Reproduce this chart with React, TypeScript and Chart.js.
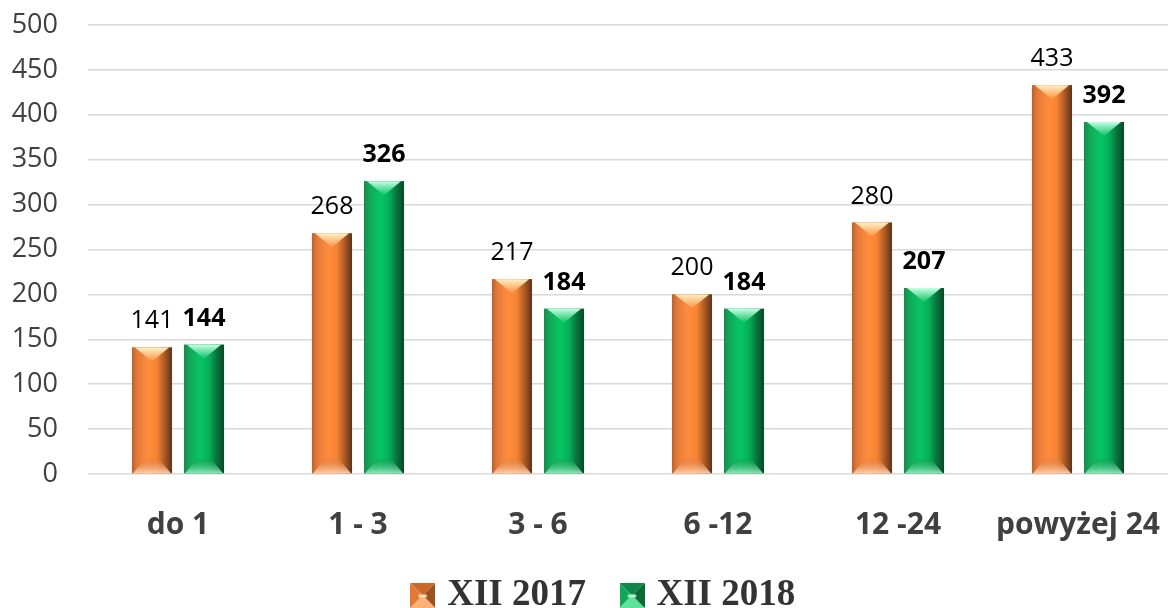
import React, { useEffect, useRef } from "react";
import { Chart, registerables } from "chart.js";

Chart.register(...registerables);

const categories = ["do 1", "1 - 3", "3 - 6", "6 -12", "12 -24", "powyżej 24"];
const values2017 = [141, 268, 217, 200, 280, 433];
const values2018 = [144, 326, 184, 184, 207, 392];
const seriesNames = ["XII 2017", "XII 2018"];
const yMin = 0;
const yMax = 500;
const yStep = 50;

type Pal = {
  base: string;
  body: [number, string][];
  topFacet: [string, string];
  botFacet: [string, string];
  icon: { top: string; left: string; right: string; bottom: string; center: string };
};

const palettes: Pal[] = [
  {
    base: "#f58535",
    body: [
      [0, "#b9622c"],
      [0.12, "#e2793a"],
      [0.4, "#ff8c3c"],
      [0.62, "#f58434"],
      [0.82, "#ab5824"],
      [1, "#5a331a"],
    ],
    topFacet: ["#fff2c6", "rgba(255,150,70,0.9)"],
    botFacet: ["rgba(255,210,175,0.95)", "rgba(220,120,60,0.35)"],
    icon: { top: "#c8692c", left: "#e27a36", right: "#9c521f", bottom: "#ffb277", center: "#ffe2b0" },
  },
  {
    base: "#0fb35c",
    body: [
      [0, "#178a4a"],
      [0.12, "#13a658"],
      [0.4, "#06c564"],
      [0.62, "#05b059"],
      [0.82, "#09723b"],
      [1, "#0a4728"],
    ],
    topFacet: ["#c6ffe4", "rgba(20,195,105,0.9)"],
    botFacet: ["rgba(150,235,190,0.95)", "rgba(20,150,80,0.35)"],
    icon: { top: "#10874a", left: "#12a85a", right: "#0a6a36", bottom: "#5ee39c", center: "#b8ffd9" },
  },
];

function makeIcon(p: Pal["icon"]): HTMLCanvasElement {
  const s = 25;
  const c = document.createElement("canvas");
  c.width = s;
  c.height = s;
  const g = c.getContext("2d")!;
  const m = s / 2;
  const tri = (pts: number[][], col: string) => {
    g.beginPath();
    g.moveTo(pts[0][0], pts[0][1]);
    for (let i = 1; i < pts.length; i++) g.lineTo(pts[i][0], pts[i][1]);
    g.closePath();
    g.fillStyle = col;
    g.fill();
  };
  tri([[0, 0], [s, 0], [m, m]], p.top);
  tri([[0, 0], [0, s], [m, m]], p.left);
  tri([[s, 0], [s, s], [m, m]], p.right);
  tri([[0, s], [s, s], [m, m]], p.bottom);
  g.fillStyle = p.center;
  g.fillRect(m - 4, m - 1, 8, 3);
  return c;
}

const barsPlugin = {
  id: "bevelBars",
  afterLayout(chart: any) {
    const lg = chart.legend;
    if (lg) {
      lg.left += 22;
      lg.right += 22;
      lg.top += 16;
      lg.bottom += 16;
    }
    const xs = chart.scales.x;
    if (xs) xs.bottom = chart.height;
  },
  afterDatasetsDraw(chart: any) {
    const ctx: CanvasRenderingContext2D = chart.ctx;
    ctx.save();
    chart.data.datasets.forEach((ds: any, di: number) => {
      const meta = chart.getDatasetMeta(di);
      const pal = palettes[di];
      meta.data.forEach((el: any, i: number) => {
        const { x, y, base, width } = el.getProps(["x", "y", "base", "width"], true);
        const L = x - width / 2;
        const R = x + width / 2;
        const top = Math.min(y, base);
        const bot = Math.max(y, base);
        const g = ctx.createLinearGradient(L, 0, R, 0);
        pal.body.forEach(([o, c]) => g.addColorStop(o, c));
        ctx.fillStyle = g;
        ctx.fillRect(L, top, width, bot - top);
        const h = Math.min(14, (bot - top) / 2);
        const tg = ctx.createLinearGradient(0, top, 0, top + h);
        tg.addColorStop(0, pal.topFacet[0]);
        tg.addColorStop(1, pal.topFacet[1]);
        ctx.beginPath();
        ctx.moveTo(L + 3, top);
        ctx.lineTo(R - 3, top);
        ctx.lineTo(x, top + h);
        ctx.closePath();
        ctx.fillStyle = tg;
        ctx.fill();
        const bg = ctx.createLinearGradient(0, bot, 0, bot - h);
        bg.addColorStop(0, pal.botFacet[0]);
        bg.addColorStop(1, pal.botFacet[1]);
        ctx.beginPath();
        ctx.moveTo(L + 1, bot);
        ctx.lineTo(R - 1, bot);
        ctx.lineTo(x + 7, bot - h);
        ctx.lineTo(x - 7, bot - h);
        ctx.closePath();
        ctx.fillStyle = bg;
        ctx.fill();
        ctx.font = `${di === 1 ? "bold " : ""}25px "Open Sans"`;
        ctx.fillStyle = "#000000";
        ctx.textAlign = "center";
        ctx.textBaseline = "alphabetic";
        ctx.fillText(String(ds.data[i]), x, top - 19);
      });
    });
    ctx.restore();
  },
};

export default function App() {
  const ref = useRef<HTMLCanvasElement | null>(null);
  useEffect(() => {
    if (!ref.current) return;
    const icons = palettes.map((p) => makeIcon(p.icon));
    const chart = new Chart(ref.current, {
      type: "bar",
      data: {
        labels: categories,
        datasets: [
          { label: seriesNames[0], data: values2017, backgroundColor: palettes[0].base, borderWidth: 0, pointStyle: icons[0] as any },
          { label: seriesNames[1], data: values2018, backgroundColor: palettes[1].base, borderWidth: 0, pointStyle: icons[1] as any },
        ],
      },
      options: {
        animation: false,
        responsive: true,
        maintainAspectRatio: false,
        datasets: { bar: { barPercentage: 0.77, categoryPercentage: 0.578 } },
        layout: { padding: { top: 25, left: 0, right: 0, bottom: 0 } },
        plugins: {
          tooltip: { enabled: false },
          legend: {
            position: "bottom",
            labels: {
              usePointStyle: true,
              pointStyleWidth: 12,
              boxWidth: 25,
              boxHeight: 25,
              padding: 40,
              color: "#333333",
              font: { family: '"Liberation Serif"', size: 37, weight: "bold" },
            },
          },
        },
        scales: {
          x: {
            grid: { display: false },
            border: { display: false },
            ticks: {
              color: "#404040",
              padding: 25,
              maxRotation: 0,
              autoSkip: false,
              font: { family: '"Open Sans"', size: 30, weight: "bold" },
            },
            afterFit: (s: any) => {
              s.height = 47;
              s.paddingRight = 0;
              s.paddingLeft = 0;
            },
          },
          y: {
            min: yMin,
            max: yMax,
            ticks: {
              stepSize: yStep,
              color: "#404040",
              padding: 30,
              font: { family: '"Open Sans"', size: 27 },
            },
            grid: { color: "#d9d9d9", lineWidth: 1.5, drawTicks: false },
            border: { display: false },
            afterFit: (s: any) => {
              s.width = 88;
              s.paddingTop = 0;
              s.paddingBottom = 0;
            },
          },
        },
      },
      plugins: [barsPlugin],
    });
    return () => chart.destroy();
  }, []);
  return (
    <div style={{ position: "fixed", left: 0, top: 0, width: 1168, height: 608, background: "#ffffff" }}>
      <canvas ref={ref} />
    </div>
  );
}
